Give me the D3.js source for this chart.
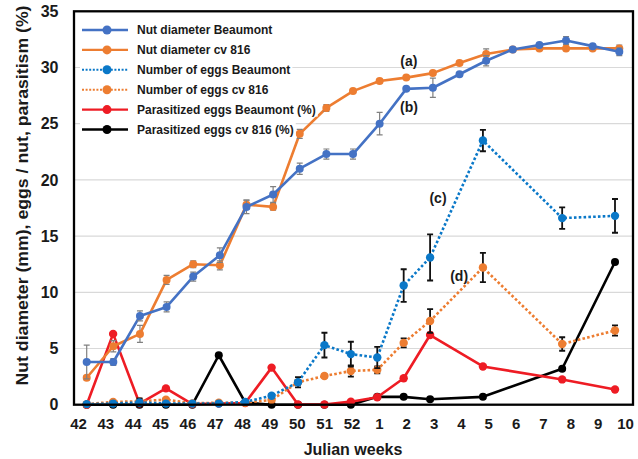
<!DOCTYPE html>
<html>
<head>
<meta charset="utf-8">
<script src="https://cdn.jsdelivr.net/npm/d3@7"></script>
<style>
  html, body { margin: 0; padding: 0; background: #fff; }
  svg { display: block; font-family: "Liberation Sans", Arial, sans-serif; }
</style>
</head>
<body>
<svg id="chart" width="638" height="459"></svg>
<script>
// Julian weeks of sampling (autumn into the following year)
const weeks = ["42","43","44","45","46","47","48","49","50","51","52","1","2","3","4","5","6","7","8","9","10"];

// Nut diameter (mm), measured every week
const nutBeaumont    = [3.8, 3.8, 7.9, 8.7, 11.4, 13.3, 17.6, 18.7, 21.0, 22.3, 22.3, 25.0, 28.1, 28.2, 29.4, 30.6, 31.6, 32.0, 32.4, 31.9, 31.4];
const nutBeaumontErr = [1.5, 0.3, 0.45, 0.45, 0.4, 0.65, 0.6, 0.7, 0.5, 0.45, 0.45, 1.0, 0.15, 0.85, 0.15, 0.45, 0.15, 0.15, 0.35, 0.15, 0.35];
const nut816         = [2.4, 5.2, 6.3, 11.1, 12.5, 12.4, 17.8, 17.6, 24.1, 26.4, 27.9, 28.8, 29.1, 29.5, 30.4, 31.2, 31.6, 31.7, 31.7, 31.7, 31.7];
const nut816Err      = [0.2, 0.5, 0.75, 0.4, 0.3, 0.4, 0.4, 0.3, 0.4, 0.3, 0.15, 0.15, 0.15, 0.15, 0.15, 0.45, 0.15, 0.15, 0.2, 0.15, 0.3];

// Eggs per nut (no samples in weeks 4, 6, 7 and 9)
const eggsBeaumont    = [0.05, 0.1, 0.2, 0.1, 0.1, 0.1, 0.25, 0.8, 2.0, 5.3, 4.5, 4.2, 10.6, 13.1, null, 23.5, null, null, 16.6, null, 16.8];
const eggsBeaumontErr = [0, 0, 0.35, 0, 0, 0, 0, 0.15, 0.45, 1.1, 1.1, 0.95, 1.45, 2.05, null, 0.95, null, null, 0.95, null, 1.5];
const eggs816         = [0.05, 0.25, 0.3, 0.45, 0.12, 0.18, 0.18, 0.42, 2.0, 2.55, 3.0, 3.1, 5.5, 7.45, null, 12.2, null, null, 5.4, null, 6.6];
const eggs816Err      = [0, 0, 0, 0.15, 0, 0, 0, 0, 0.2, 0.15, 0.5, 0.3, 0.4, 1.05, null, 1.3, null, null, 0.6, null, 0.45];

// Parasitized eggs (%)
const parBeaumont = [0, 6.3, 0.1, 1.45, 0.05, 0.1, 0.15, 3.3, 0.02, 0.02, 0.27, 0.66, 2.35, 6.2, null, 3.4, null, null, 2.25, null, 1.35];
const par816      = [0, 0, 0, 0, 0, 4.4, 0.2, 0, 0, 0, 0, 0.7, 0.7, 0.48, null, 0.7, null, null, 3.2, null, 12.7];

const yTicks = [0, 5, 10, 15, 20, 25, 30, 35];

const svg = d3.select("#chart");

const plot = { left: 74, right: 633, top: 11.3, bottom: 404.7 };

const y = d3.scaleLinear().domain([0, 35]).range([plot.bottom, plot.top]);
// week labels along the axis
const xLabel = d3.scalePoint().domain(weeks).range([78, 625]);
// sampling positions for the diameter series and for the egg / parasitism series
const xNut = d3.scaleLinear().domain([0, weeks.length - 1]).range([86.7, 619.3]);
const xEgg = d3.scaleLinear().domain([0, weeks.length - 1]).range([86.7, 615]);

// gridlines
svg.append("g")
  .selectAll("line")
  .data(yTicks.filter(t => t > 0 && t < 35))
  .join("line")
  .attr("x1", plot.left).attr("x2", plot.right)
  .attr("y1", d => y(d)).attr("y2", d => y(d))
  .attr("stroke", "#d9d9d9").attr("stroke-width", 1.2);

// y axis labels
const yAxis = d3.axisLeft(y).tickValues(yTicks).tickSize(0).tickPadding(0);
svg.append("g")
  .attr("transform", "translate(58.5,0)")
  .call(yAxis)
  .call(g => g.select(".domain").remove())
  .selectAll("text")
  .attr("font-size", 16).attr("font-weight", "bold").attr("fill", "#1a1a1a")
  .attr("font-family", "'Liberation Sans', Arial, sans-serif");

// x axis labels
const xAxis = d3.axisBottom(xLabel).tickSize(0).tickPadding(0);
svg.append("g")
  .attr("transform", "translate(0,418)")
  .call(xAxis)
  .call(g => g.select(".domain").remove())
  .selectAll("text")
  .attr("font-size", 15).attr("font-weight", "bold").attr("fill", "#1a1a1a")
  .attr("font-family", "'Liberation Sans', Arial, sans-serif");

// axis titles
svg.append("text")
  .attr("x", 353).attr("y", 455)
  .attr("text-anchor", "middle")
  .attr("font-size", 16).attr("font-weight", "bold").attr("fill", "#1a1a1a")
  .text("Julian weeks");

svg.append("text")
  .attr("transform", "translate(28,195.5) rotate(-90)")
  .attr("text-anchor", "middle")
  .attr("font-size", 16.5).attr("font-weight", "bold").attr("fill", "#1a1a1a")
  .attr("textLength", 380).attr("lengthAdjust", "spacingAndGlyphs")
  .text("Nut diameter (mm), eggs / nut, parasitism (%)");

const series = [
  { name: "Nut diameter Beaumont", values: nutBeaumont, err: nutBeaumontErr, x: xNut, color: "#4472c4", dash: null, errColor: "#808080", r: 4 },
  { name: "Nut diameter cv 816", values: nut816, err: nut816Err, x: xNut, color: "#ed7d31", dash: null, errColor: "#808080", r: 4 },
  { name: "Number of eggs Beaumont", values: eggsBeaumont, err: eggsBeaumontErr, x: xEgg, color: "#0a78c8", dash: "2.6 2.2", errColor: "#111", r: 4.2 },
  { name: "Number of eggs cv 816", values: eggs816, err: eggs816Err, x: xEgg, color: "#ed7d31", dash: "2.6 2.2", errColor: "#111", r: 4.2 },
  { name: "Parasitized eggs Beaumont (%)", values: parBeaumont, err: null, x: xEgg, color: "#ee1c24", dash: null, errColor: null, r: 4.2 },
  { name: "Parasitized eggs cv 816 (%)", values: par816, err: null, x: xEgg, color: "#000000", dash: null, errColor: null, r: 4 }
];

const drawOrder = [5, 4, 3, 2, 1, 0];
drawOrder.forEach(i => {
  const s = series[i];
  const pts = s.values.map((v, k) => ({ k, v, e: s.err ? s.err[k] : 0 })).filter(p => p.v !== null);
  const g = svg.append("g");

  const line = d3.line().x(p => s.x(p.k)).y(p => y(p.v));
  g.append("path")
    .datum(pts)
    .attr("d", line)
    .attr("fill", "none")
    .attr("stroke", s.color)
    .attr("stroke-width", 2.6)
    .attr("stroke-dasharray", s.dash)
    .attr("stroke-linejoin", "round");

  if (s.err) {
    const eb = pts.filter(p => p.e > 0);
    const cap = 3;
    const ew = s.errColor === "#111" ? 1.8 : 1.2;
    g.selectAll(".eb").data(eb).join("path")
      .attr("d", p => {
        const cx = s.x(p.k), y1 = y(p.v + p.e), y2 = y(p.v - p.e);
        return `M${cx},${y1}V${y2}M${cx - cap},${y1}H${cx + cap}M${cx - cap},${y2}H${cx + cap}`;
      })
      .attr("fill", "none").attr("stroke", s.errColor).attr("stroke-width", ew);
  }

  g.selectAll("circle").data(pts).join("circle")
    .attr("cx", p => s.x(p.k)).attr("cy", p => y(p.v))
    .attr("r", s.r).attr("fill", s.color);
});

// plot frame
svg.append("rect")
  .attr("x", plot.left).attr("y", plot.top)
  .attr("width", plot.right - plot.left).attr("height", plot.bottom - plot.top)
  .attr("fill", "none").attr("stroke", "#000").attr("stroke-width", 2.3);

// curve annotations
const notes = [
  { t: "(a)", k: 12.1, v: 30.1, x: xNut },
  { t: "(b)", k: 12.1, v: 26.0, x: xNut },
  { t: "(c)", k: 13.3, v: 17.95, x: xEgg },
  { t: "(d)", k: 14.1, v: 11.0, x: xEgg }
];
svg.append("g").selectAll("text").data(notes).join("text")
  .attr("x", d => d.x(d.k)).attr("y", d => y(d.v))
  .attr("text-anchor", "middle")
  .attr("font-size", 14).attr("font-weight", "bold").attr("fill", "#1a1a1a")
  .text(d => d.t);

// legend
const legend = svg.append("g");
const rowY = d3.scaleLinear().domain([0, 5]).range([30, 129.5]);
series.forEach((s, i) => {
  const row = legend.append("g").attr("transform", `translate(0,${rowY(i)})`);
  const bg = row.append("rect").attr("fill", "#fff");
  row.append("line")
    .attr("x1", 82).attr("x2", 128).attr("y1", 0).attr("y2", 0)
    .attr("stroke", s.color).attr("stroke-width", s.dash ? 2 : 2.4)
    .attr("stroke-dasharray", s.dash ? "2 1.6" : null);
  row.append("circle").attr("cx", 107).attr("cy", 0).attr("r", 4.5).attr("fill", s.color);
  const txt = row.append("text")
    .attr("x", 137).attr("y", 4.3)
    .attr("font-size", 12).attr("font-weight", "bold").attr("fill", "#1a1a1a")
    .text(s.name);
  const w = txt.node().getComputedTextLength();
  bg.attr("x", 80).attr("y", -7).attr("width", 137 + w - 78).attr("height", 14);
});
</script>
</body>
</html>
